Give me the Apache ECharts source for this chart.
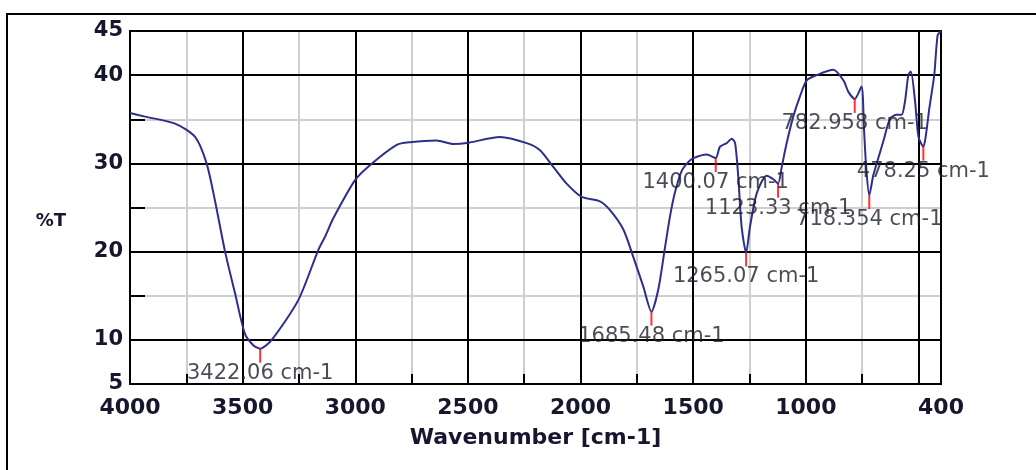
<!DOCTYPE html>
<html>
<head>
<meta charset="utf-8">
<script src="https://cdn.jsdelivr.net/npm/echarts@6/dist/echarts.min.js"></script>
<style>
html, body { margin: 0; padding: 0; background: #fff; }
#ir { width: 1036px; height: 470px; }
</style>
</head>
<body>
<div id="ir"></div>
<script>
var myChart = echarts.init(document.getElementById("ir"));

// spectrum (wavenumber, %T)
var waveX = [4000, 3933, 3800, 3711, 3660, 3623, 3578, 3534, 3490, 3453, 3422.06, 3371, 3253, 3164, 3134,
	3097, 3001, 2935, 2816, 2757, 2639, 2565, 2505, 2358, 2239, 2180, 2121, 2062, 1995, 1914, 1869, 1810,
	1766, 1721, 1685.48, 1655, 1625, 1603, 1580, 1550, 1520, 1499, 1440, 1400.07, 1381, 1351, 1329, 1314,
	1300, 1285, 1265.07, 1248, 1218, 1174, 1144, 1123.33, 1107, 1085, 1056, 1026, 996, 952, 878, 833, 811,
	782.958, 753, 742, 732, 718.354, 700, 656, 626, 597, 575, 560, 545, 534, 515, 500, 478.25, 467, 452,
	430, 415, 400];
var waveT = [35.7, 35.3, 34.5, 33.0, 30.0, 25.8, 20.0, 15.3, 10.7, 9.4, 9.0, 10.0, 14.5, 20.2, 21.7,
	23.8, 28.1, 29.8, 32.1, 32.4, 32.6, 32.2, 32.3, 33.0, 32.3, 31.5, 29.6, 27.7, 26.2, 25.7, 24.7, 22.5,
	19.4, 16.0, 13.2, 15.7, 20.5, 24.0, 26.8, 29.2, 30.2, 30.6, 31.0, 30.6, 31.9, 32.3, 32.8, 32.3,
	28.5, 22.8, 19.9, 22.8, 26.6, 28.6, 28.2, 27.7, 29.6, 32.3, 35.3, 37.6, 39.4, 40.0, 40.6, 39.4, 38.1,
	37.3, 38.7, 34.0, 29.5, 26.4, 28.7, 32.5, 35.1, 35.5, 35.5, 37.0, 40.0, 40.4, 37.0, 33.0, 31.9, 33.2, 36.2,
	40.0, 44.5, 45];

// labelled peaks
var peakX = [3422.06, 1685.48, 1400.07, 1265.07, 1123.33, 782.958, 718.354, 478.25];

// axis ticks / grid
var xLabels = [4000, 3500, 3000, 2500, 2000, 1500, 1000, 400];
var xMajor = [4000, 3500, 3000, 2500, 2000, 1500, 1000, 500, 400];
var xMinor = [3750, 3250, 2750, 2250, 1750, 1250, 750];
var yLabels = [5, 10, 20, 30, 40, 45];
var yMinor = [15, 25, 35];

var spectrum = [];
for (var i = 0; i < waveX.length; i++) {
	spectrum.push([waveX[i], waveT[i]]);
}
var peaks = [];
for (var j = 0; j < peakX.length; j++) {
	peaks.push([peakX[j], waveT[waveX.indexOf(peakX[j])]]);
}

var txt = '#16162e';

option = {
	backgroundColor: '#fff',
	animation: false,
	grid: {
		left: 130,
		right: 95,
		top: 31,
		bottom: 86,
		show: true,
		borderColor: '#000',
		borderWidth: 2
	},
	graphic: [{
		type: 'rect',
		shape: { x: 7, y: 14, width: 1200, height: 600 },
		style: { fill: null, stroke: '#000', lineWidth: 2 },
		silent: true
	}],
	xAxis: [{
		type: 'value',
		inverse: true,
		min: 400,
		max: 4000,
		position: 'bottom',
		z: 1,
		name: 'Wavenumber [cm-1]',
		nameLocation: 'middle',
		nameGap: 43,
		nameTextStyle: { fontFamily: 'DejaVu Sans', fontWeight: 'bold', fontSize: 22, color: txt },
		axisLine: { show: true, lineStyle: { color: '#000', width: 2 } },
		axisTick: { show: false, customValues: xMajor },
		axisLabel: {
			customValues: xLabels,
			margin: 13,
			fontFamily: 'DejaVu Sans',
			fontWeight: 'bold',
			fontSize: 22,
			color: txt,
			formatter: function (v) { return String(v); }
		},
		splitLine: { show: true, lineStyle: { color: '#000', width: 2 } }
	}, {
		type: 'value',
		inverse: true,
		min: 400,
		max: 4000,
		position: 'bottom',
		z: 0,
		axisLine: { show: false },
		axisLabel: { show: false },
		axisTick: { show: true, inside: true, length: 10, customValues: xMinor, lineStyle: { color: '#000', width: 2 } },
		splitLine: { show: true, lineStyle: { color: '#cfcfcf', width: 2 } }
	}],
	yAxis: [{
		type: 'value',
		min: 5,
		max: 45,
		position: 'left',
		z: 1,
		name: '%T',
		nameLocation: 'middle',
		nameRotate: 0,
		nameGap: 64,
		nameTextStyle: { fontFamily: 'DejaVu Sans', fontWeight: 'bold', fontSize: 18, color: txt, verticalAlign: 'top', padding: [5, 0, 0, 0] },
		axisLine: { show: true, lineStyle: { color: '#000', width: 2 } },
		axisTick: { show: false, customValues: yLabels },
		axisLabel: {
			customValues: yLabels,
			margin: 7,
			fontFamily: 'DejaVu Sans',
			fontWeight: 'bold',
			fontSize: 21,
			color: txt
		},
		splitLine: { show: true, lineStyle: { color: '#000', width: 2 } }
	}, {
		type: 'value',
		min: 5,
		max: 45,
		position: 'left',
		z: 0,
		axisLine: { show: false },
		axisLabel: { show: false },
		axisTick: { show: true, inside: true, length: 15, customValues: yMinor, lineStyle: { color: '#000', width: 2 } },
		splitLine: { show: true, lineStyle: { color: '#cfcfcf', width: 2 } }
	}],
	series: [{
		name: 'spectrum',
		type: 'line',
		xAxisIndex: 0,
		yAxisIndex: 0,
		data: spectrum,
		showSymbol: false,
		smooth: 0.25,
		silent: true,
		lineStyle: { color: '#2e2e8c', width: 2 }
	}, {
		name: 'peaks',
		type: 'scatter',
		xAxisIndex: 0,
		yAxisIndex: 0,
		data: peaks,
		symbol: 'rect',
		symbolSize: [2, 14],
		symbolOffset: [0, 7],
		silent: true,
		z: 3,
		itemStyle: { color: '#ff0000' },
		label: {
			show: true,
			position: 'bottom',
			distance: 0,
			fontFamily: 'DejaVu Sans',
			fontSize: 21,
			color: '#1e1e2c',
			formatter: function (p) { return p.value[0] + ' cm-1'; }
		}
	}]
};

myChart.setOption(option);
</script>
</body>
</html>
